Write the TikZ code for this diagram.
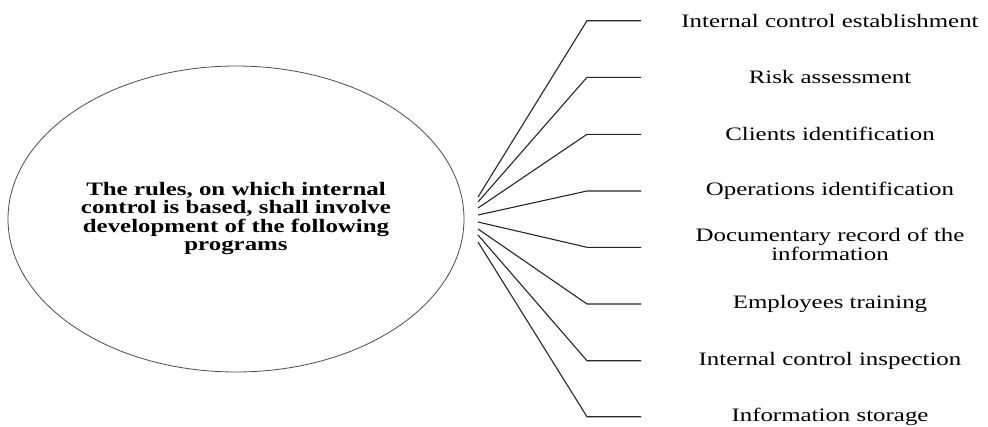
\documentclass[tikz,border=0pt]{standalone}
\usepackage{graphicx}
\usepackage{fontspec}
\setmainfont{Liberation Serif}
\usetikzlibrary{shapes.geometric}
\newcommand{\hstretch}[1]{\scalebox{1.31}[1]{#1}}
\tikzset{
  centre/.style={ellipse, draw=black!70, line width=0.8pt, inner sep=0pt,
    minimum width=456pt, minimum height=306pt},
  item/.style={inner sep=0pt, font=\fontsize{19}{18}\selectfont},
  link/.style={draw=black!85, line width=1.1pt}
}
\begin{document}
\begin{tikzpicture}[x=1pt, y=-1pt]
\useasboundingbox (0,0) rectangle (988,426);
\node[centre] (c) at (236,219) {\hstretch{\fontsize{19}{17.7}\selectfont\bfseries
  \begin{tabular}{@{}c@{}}The rules, on which internal\\ control is based, shall involve\\ development of the following\\ programs\end{tabular}}};
% labels
\node[item] (l1) at (830,20.7) {\hstretch{Internal control establishment}};
\node[item] (l2) at (830,77.3) {\hstretch{Risk assessment}};
\node[item] (l3) at (830,134.3) {\hstretch{Clients identification}};
\node[item] (l4) at (830,191) {\hstretch{Operations identification}};
\node[item] (l5) at (830,247.3) {\hstretch{\begin{tabular}{@{}c@{}}Documentary record of the\\ information\end{tabular}}};
\node[item] (l6) at (830,304) {\hstretch{Employees training}};
\node[item] (l7) at (830,360.7) {\hstretch{Internal control inspection}};
\node[item] (l8) at (830,416.7) {\hstretch{Information storage}};
% connector points
\foreach \i/\ys/\ye in {1/197/20.7, 2/202/77.3, 3/208/134.3, 4/215/191, 5/222/247.3, 6/229/304, 7/235/360.7, 8/242/416.7}{
  \coordinate (s\i) at (478,\ys);
  \coordinate (k\i) at (587,\ye);
  \coordinate (e\i) at (641,\ye);
  \draw[link] (s\i) -- (k\i) -- (e\i);
}
\end{tikzpicture}
\end{document}
